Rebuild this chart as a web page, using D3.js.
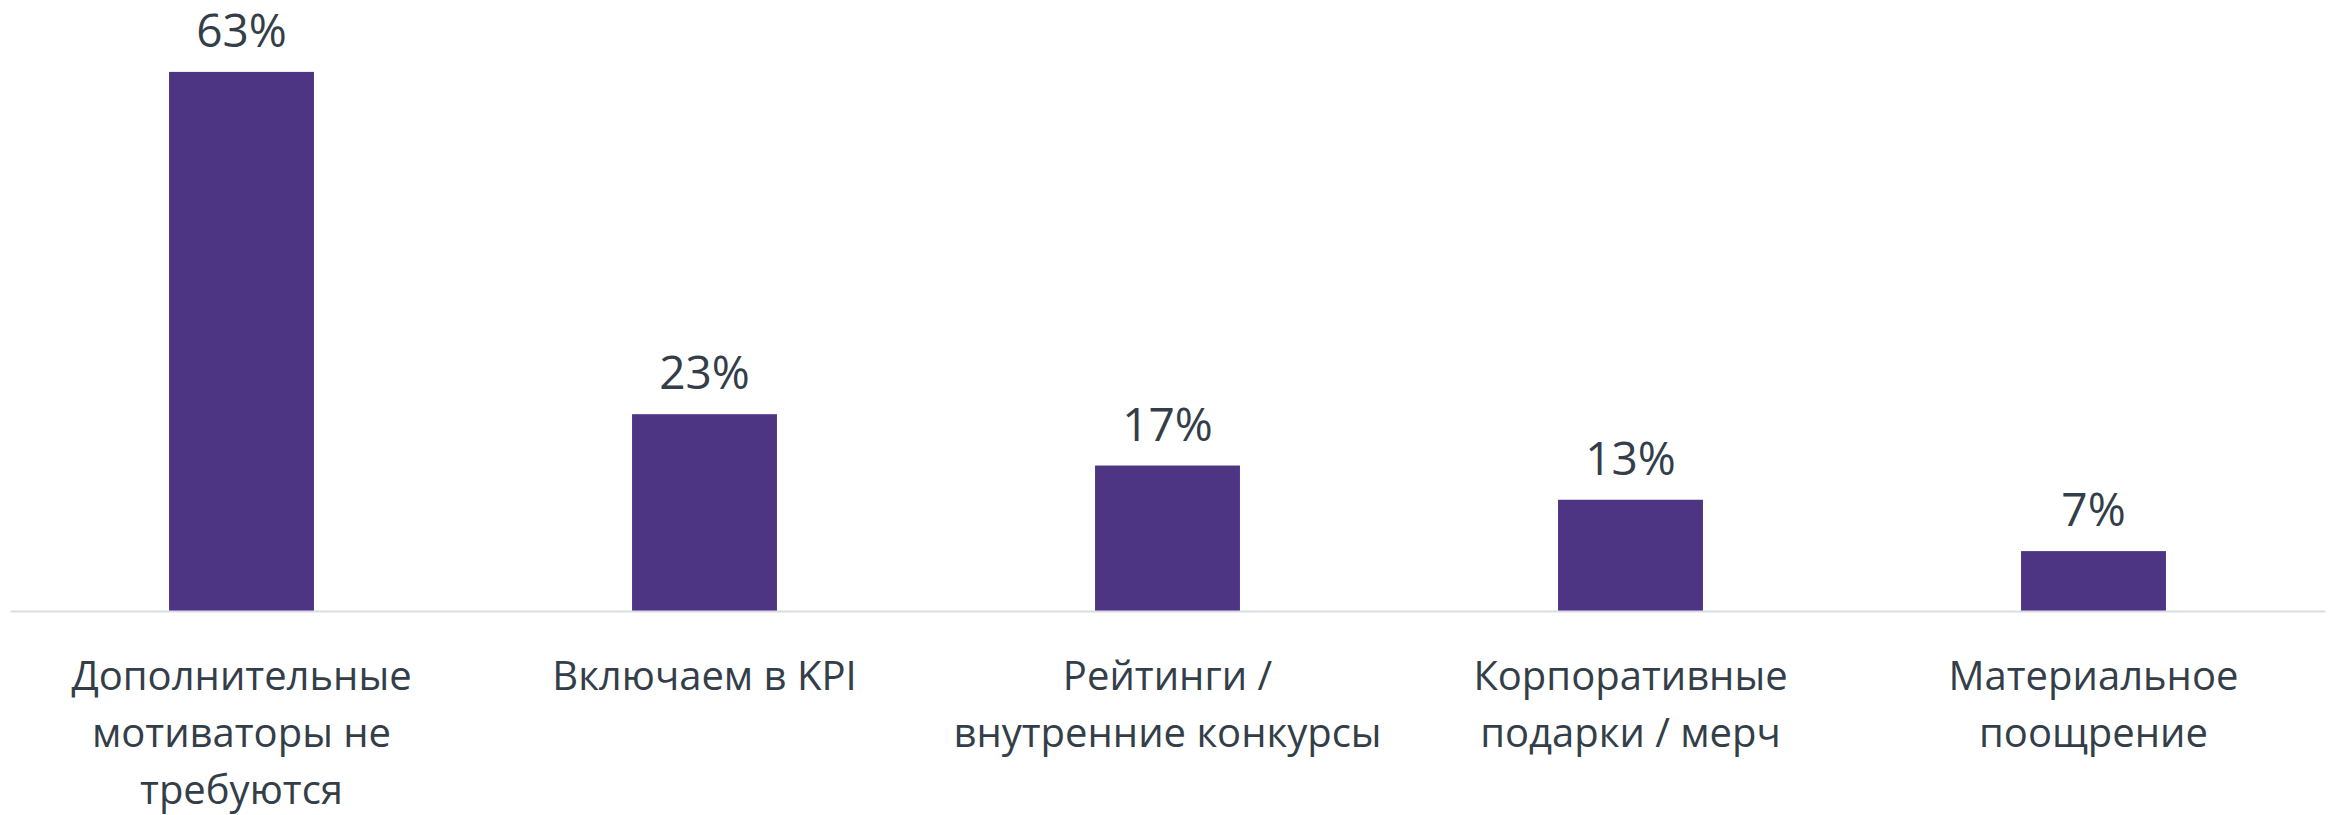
<!DOCTYPE html>
<html>
<head>
<meta charset="utf-8">
<script src="https://cdn.jsdelivr.net/npm/d3@7"></script>
<style>
  html, body { margin: 0; padding: 0; background: #ffffff; }
  svg { display: block; }
</style>
</head>
<body>
<svg id="chart" width="2331" height="815"></svg>
<script>
// Categories (wrapped into display lines) and their shares, %
const categories = [
  "Дополнительные мотиваторы не требуются",
  "Включаем в KPI",
  "Рейтинги / внутренние конкурсы",
  "Корпоративные подарки / мерч",
  "Материальное поощрение"
];
const categoryLines = [
  ["Дополнительные", "мотиваторы не", "требуются"],
  ["Включаем в KPI"],
  ["Рейтинги /", "внутренние конкурсы"],
  ["Корпоративные", "подарки / мерч"],
  ["Материальное", "поощрение"]
];
const values = [63, 23, 17, 13, 7];
const yDomain = [0, 70];

const W = 2331, H = 815;
const margin = { top: 12, right: 6, bottom: 204, left: 10 };
const font = "'Open Sans', 'Noto Sans', sans-serif";
const textColor = "#333e49";
const barColor = "#4d3584";

const svg = d3.select("#chart");

const x = d3.scaleBand()
  .domain(categories)
  .range([margin.left, W - margin.right])
  .paddingInner(0.687)
  .paddingOuter(0.3435);

const y = d3.scaleLinear()
  .domain(yDomain)
  .range([H - margin.bottom, margin.top]);

// bars
svg.append("g")
  .selectAll("rect")
  .data(values)
  .join("rect")
  .attr("x", (d, i) => x(categories[i]))
  .attr("y", d => y(d))
  .attr("width", x.bandwidth())
  .attr("height", d => y(0) - y(d))
  .attr("fill", barColor);

// baseline axis
const axis = svg.append("g")
  .attr("transform", `translate(0,${y(0)})`)
  .call(d3.axisBottom(x).tickSize(0).tickFormat(""));
axis.select(".domain")
  .attr("stroke", "#dadee4")
  .attr("stroke-width", 2);

// value labels above bars
svg.append("g")
  .selectAll("text")
  .data(values)
  .join("text")
  .attr("x", (d, i) => x(categories[i]) + x.bandwidth() / 2)
  .attr("y", d => y(d) - 25)
  .attr("text-anchor", "middle")
  .attr("font-family", font)
  .attr("font-size", 46)
  .attr("fill", textColor)
  .text(d => d + "%");

// category labels
const lab = svg.append("g")
  .selectAll("text")
  .data(categories)
  .join("text")
  .attr("x", d => x(d) + x.bandwidth() / 2)
  .attr("y", y(0) + 79)
  .attr("text-anchor", "middle")
  .attr("font-family", font)
  .attr("font-size", 40)
  .attr("fill", textColor);

lab.selectAll("tspan")
  .data((d, i) => categoryLines[i])
  .join("tspan")
  .attr("x", function () { return d3.select(this.parentNode).attr("x"); })
  .attr("dy", (d, j) => j === 0 ? 0 : 57)
  .text(d => d);
</script>
</body>
</html>
